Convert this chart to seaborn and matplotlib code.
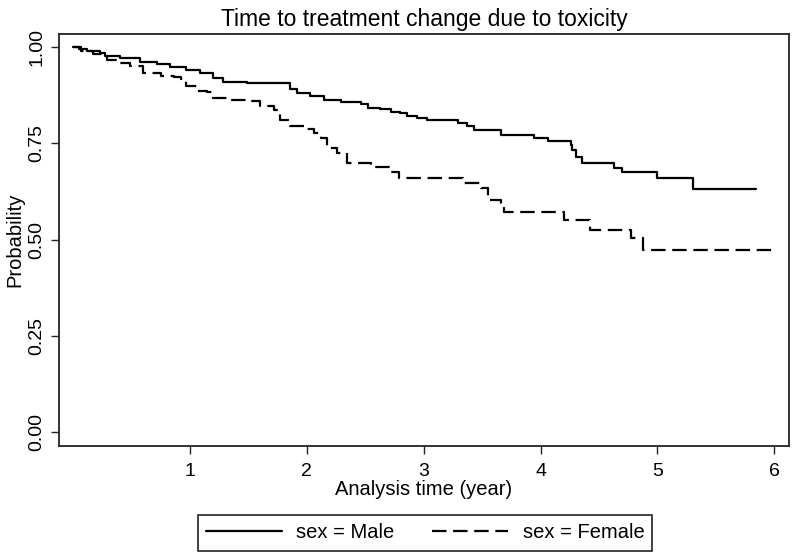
import numpy as np
import pandas as pd
import seaborn as sns
import matplotlib.pyplot as plt

# Kaplan-Meier step values
male_time = [0, 0.05, 0.12, 0.23, 0.275, 0.40, 0.57, 0.72, 0.83, 0.97, 1.09, 1.20, 1.28,
             1.49, 1.69, 1.86, 1.92, 2.03, 2.15, 2.29, 2.46, 2.52, 2.63, 2.72, 2.80,
             2.86, 2.94, 3.03, 3.29, 3.37, 3.43, 3.66, 3.94, 4.06, 4.26, 4.27, 4.30,
             4.35, 4.63, 4.70, 5.00, 5.30, 5.84]
male_surv = [1.0, 0.995, 0.99, 0.985, 0.977, 0.973, 0.962, 0.955, 0.949, 0.94, 0.932, 0.92, 0.91,
             0.908, 0.906, 0.89, 0.88, 0.872, 0.862, 0.858, 0.852, 0.841, 0.838, 0.832, 0.828,
             0.821, 0.817, 0.812, 0.802, 0.795, 0.784, 0.772, 0.763, 0.755, 0.745, 0.732, 0.715,
             0.70, 0.687, 0.676, 0.659, 0.632, 0.632]

female_time = [0, 0.07, 0.17, 0.29, 0.40, 0.49, 0.60, 0.75, 0.86, 0.92, 0.97, 1.06, 1.15,
               1.20, 1.32, 1.49, 1.60, 1.72, 1.77, 1.86, 2.00, 2.06, 2.12, 2.17, 2.26,
               2.34, 2.43, 2.55, 2.72, 2.79, 3.34, 3.49, 3.55, 3.66, 3.69, 4.20, 4.42,
               4.77, 4.88, 6.00]
female_surv = [1.0, 0.99, 0.982, 0.966, 0.96, 0.95, 0.932, 0.925, 0.923, 0.916, 0.90, 0.887, 0.883,
               0.867, 0.862, 0.859, 0.847, 0.836, 0.812, 0.796, 0.787, 0.777, 0.763, 0.739, 0.724,
               0.70, 0.698, 0.688, 0.676, 0.659, 0.646, 0.633, 0.603, 0.59, 0.572, 0.55, 0.526,
               0.503, 0.473, 0.473]

groups = ["sex = Male", "sex = Female"]
x_ticks = [1, 2, 3, 4, 5, 6]
y_ticks = [0, 0.25, 0.5, 0.75, 1.0]

df = pd.concat([
    pd.DataFrame({"time": male_time, "surv": male_surv, "sex": groups[0]}),
    pd.DataFrame({"time": female_time, "surv": female_surv, "sex": groups[1]}),
])

sns.set_theme(style="ticks", rc={"text.color": "black", "axes.labelcolor": "black",
                                 "xtick.color": "black", "ytick.color": "black"})
plt.rcParams["font.family"] = ["Liberation Sans", "DejaVu Sans"]

fig = plt.figure(figsize=(7.92, 5.56), dpi=100)
ax = fig.add_axes([0.0745, 0.1978, 0.9217, 0.741])

sns.lineplot(data=df, x="time", y="surv", hue="sex", style="sex",
             palette=["black", "black"], dashes={groups[0]: "", groups[1]: (6.5, 3)},
             estimator=None, sort=False, drawstyle="steps-post", lw=1.6, ax=ax)

ax.set_xlim(-0.12, 6.125)
ax.set_ylim(-0.036, 1.034)
ax.set_xticks(x_ticks)
ax.set_yticks(y_ticks)
ax.set_yticklabels([f"{v:.2f}" for v in y_ticks], rotation=90, va="center")
ax.tick_params(axis="both", labelsize=14, length=6, width=1, color="#222222")
ax.tick_params(axis="x", pad=6)
ax.tick_params(axis="y", pad=4)
for s in ax.spines.values():
    s.set_visible(True)
    s.set_color("#222222")
    s.set_linewidth(1.3)

ax.set_xlabel("Analysis time (year)", fontsize=14.5, labelpad=0)
ax.set_ylabel("Probability", fontsize=14.5, labelpad=3)
ax.set_title("Time to treatment change due to toxicity", fontsize=16.5, pad=6)

sns.move_legend(ax, "center", bbox_to_anchor=(425 / 792, 1 - 533 / 556),
                bbox_transform=fig.transFigure, ncol=2, title=None, frameon=True,
                fontsize=14.5, handlelength=3.8, handletextpad=0.7, columnspacing=1.85,
                fancybox=False, edgecolor="#222222", framealpha=1, borderpad=0.4)
ax.get_legend().get_frame().set_linewidth(1.2)

fig.savefig("out.png", dpi=100)
